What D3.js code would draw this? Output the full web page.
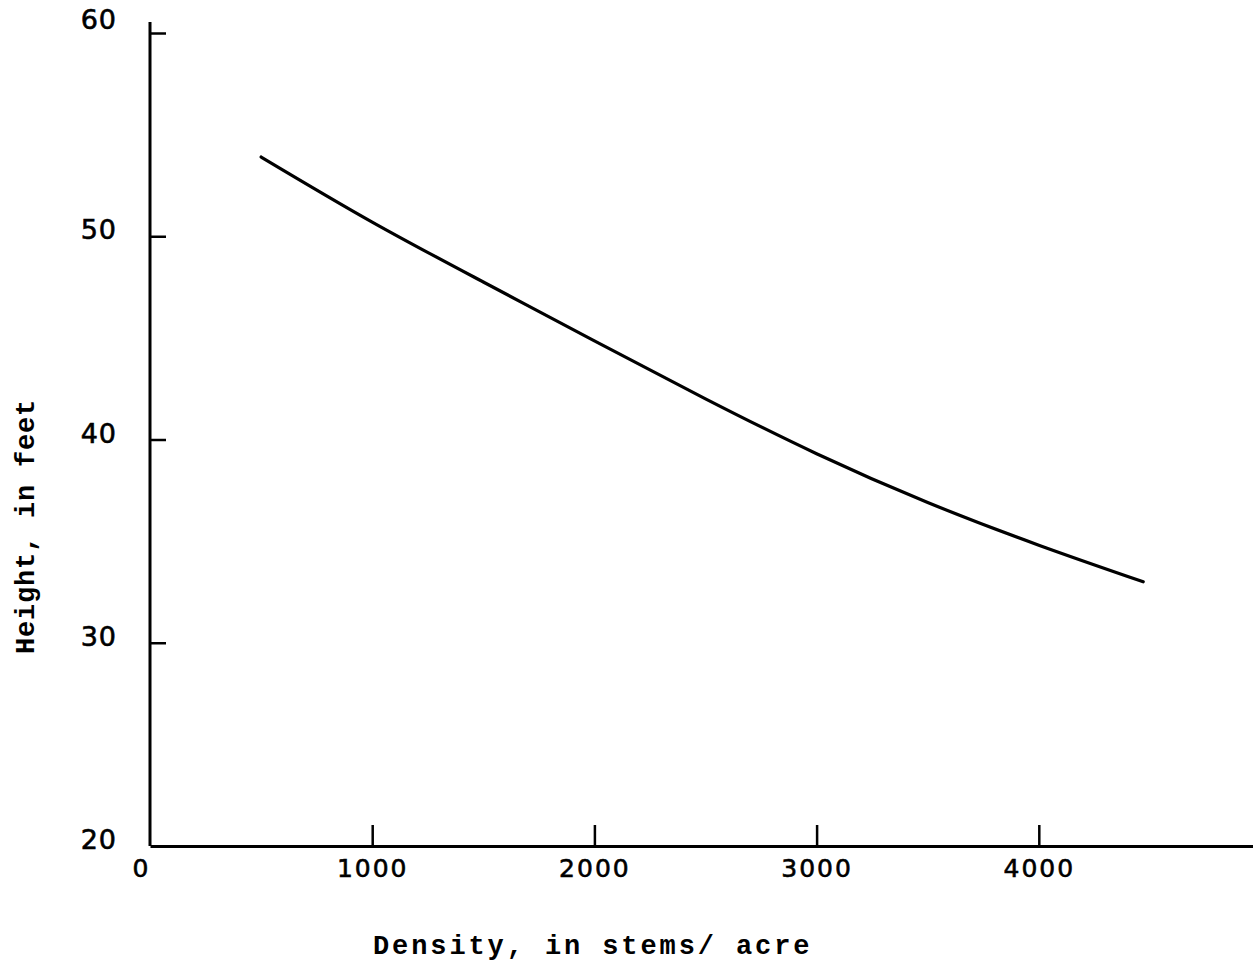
<!DOCTYPE html>
<html lang="en">
    <head>
        <meta charset="utf-8">
        <title>Height vs density</title>
        <script type="text/javascript" src="https://cdn.jsdelivr.net/npm/d3@7/dist/d3.min.js"></script>
        <style type="text/css">
            body { margin: 0; background: #fff; }
            .tick text { font-family: "DejaVu Sans", sans-serif; fill: #000; stroke: #000; stroke-width: 0.6; }
            .title { font-family: "Liberation Mono", "DejaVu Sans Mono", monospace; font-weight: bold; fill: #000; }
        </style>
    </head>
    <body>
        <div class="chart"></div>
        <script type="text/javascript">
            // 读图得到的数据
            var density = [500, 1000, 1500, 2000, 2500, 3000, 3500, 4000, 4470];
            var height  = [53.9, 50.7, 47.75, 44.85, 42.0, 39.3, 36.9, 34.8, 33.0];
            var xTicks = [0, 1000, 2000, 3000, 4000];
            var yTicks = [20, 30, 40, 50, 60];

            var w = 1253;
            var h = 963;
            var svg = d3.select("div.chart")
                        .append("svg")
                        .attr("width", w)
                        .attr("height", h);

            // 比例尺
            var xScale = d3.scaleLinear()
                           .domain([0, 5000])
                           .range([150, 1261]);
            var yScale = d3.scaleLinear()
                           .domain([20, 60])
                           .range([846, 33]);

            // x轴，刻度朝上
            var xAxis = d3.axisBottom(xScale)
                          .tickValues(xTicks)
                          .tickFormat(d3.format("d"))
                          .tickSizeInner(-21)
                          .tickSizeOuter(0)
                          .tickPadding(13);
            var gx = svg.append("g")
               .attr("class", "x axis")
               .attr("transform", "translate(0, " + yScale(20) + ")")
               .call(xAxis);
            gx.select(".domain").attr("stroke", "#000").attr("stroke-width", 3);
            gx.selectAll(".tick line").attr("stroke", "#000").attr("stroke-width", 2.5);
            gx.selectAll(".tick text")
              .attr("font-size", 25)
              .attr("letter-spacing", 2);
            // 0 标签稍微偏左，不画刻度
            gx.selectAll(".tick").filter(function(d){ return d === 0; })
              .each(function(){
                  d3.select(this).select("line").remove();
                  d3.select(this).select("text").attr("x", -9);
              });

            // y轴，刻度朝右
            var yAxis = d3.axisLeft(yScale)
                          .tickValues(yTicks)
                          .tickSizeInner(-16)
                          .tickSizeOuter(0)
                          .tickPadding(33);
            var gy = svg.append("g")
               .attr("class", "y axis")
               .attr("transform", "translate(" + xScale(0) + ", 0)")
               .call(yAxis);
            gy.select(".domain").remove();
            gy.selectAll(".tick line").attr("stroke", "#000").attr("stroke-width", 2.5);
            gy.selectAll(".tick text")
              .attr("font-size", 27)
              .attr("dy", "0.1em")
              .attr("letter-spacing", 1);
            gy.selectAll(".tick").filter(function(d){ return d === 20; })
              .select("line").remove();
            gy.selectAll(".tick").filter(function(d){ return d === 60; })
              .select("text").attr("dy", "-0.15em");
            gy.append("line")
              .attr("x1", 0).attr("x2", 0)
              .attr("y1", yScale(20))
              .attr("y2", yScale(60) - 11)
              .attr("stroke", "#000")
              .attr("stroke-width", 3);

            // 曲线
            var line = d3.line()
                         .x(function(d, i){ return xScale(density[i]); })
                         .y(function(d, i){ return yScale(height[i]); })
                         .curve(d3.curveNatural);
            svg.append("path")
               .datum(density)
               .attr("d", line)
               .attr("fill", "none")
               .attr("stroke", "#000")
               .attr("stroke-width", 3.2)
               .attr("stroke-linecap", "round");

            // 坐标轴标题
            svg.append("text")
               .attr("class", "title")
               .attr("x", 373)
               .attr("y", 954)
               .attr("font-size", 27)
               .attr("letter-spacing", 2.9)
               .text("Density, in stems/ acre");
            svg.append("text")
               .attr("class", "title")
               .attr("transform", "translate(34, 654) rotate(-90)")
               .attr("font-size", 27)
               .attr("letter-spacing", 0.8)
               .text("Height, in feet");
        </script>
    </body>
</html>
